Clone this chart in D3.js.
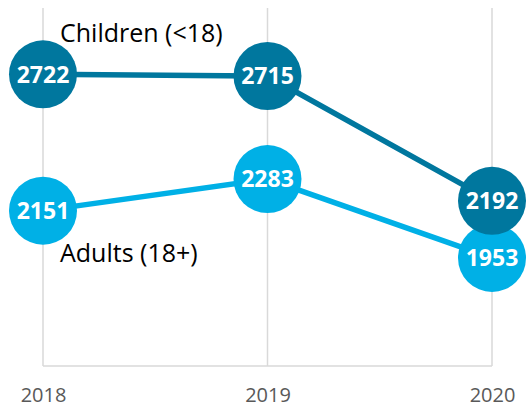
<!DOCTYPE html>
<html>
<head>
<meta charset="utf-8">
<script src="https://cdn.jsdelivr.net/npm/d3@7"></script>
<style>
  body { margin: 0; background: #fff; }
  svg { display: block; font-family: 'Open Sans', sans-serif; }
</style>
</head>
<body>
<div class="chart"></div>
<script>
// data
const years = ['2018', '2019', '2020']
const children = [2722, 2715, 2192]
const adults = [2151, 2283, 1953]
const seriesNames = ['Children (<18)', 'Adults (18+)']
const yDomain = [1500, 3000]

const width = 527,
      height = 408

const svg = d3.select('.chart')
              .append('svg')
              .attr('width', width)
              .attr('height', height)

// scales
const xScale = d3.scalePoint()
                 .domain(years)
                 .range([43, 492])

const yScale = d3.scaleLinear()
                 .domain(yDomain)
                 .range([366, 8])

// vertical grid lines
svg.append('g')
   .selectAll('line')
   .data(years)
   .join('line')
   .attr('x1', d => xScale(d))
   .attr('x2', d => xScale(d))
   .attr('y1', yScale(yDomain[1]))
   .attr('y2', yScale(yDomain[0]))
   .attr('stroke', '#d9d9d9')
   .attr('stroke-width', 1.5)

// baseline
svg.append('line')
   .attr('x1', xScale(years[0]))
   .attr('x2', xScale(years[years.length - 1]))
   .attr('y1', yScale(yDomain[0]))
   .attr('y2', yScale(yDomain[0]))
   .attr('stroke', '#d9d9d9')
   .attr('stroke-width', 1.5)

// x axis labels
const xAxis = d3.axisBottom(xScale).tickSize(0).tickPadding(0)
const xAxisGroup = svg.append('g')
                      .attr('transform', 'translate(0,402)')
                      .call(xAxis)
xAxisGroup.select('.domain').remove()
xAxisGroup.selectAll('text')
          .attr('y', 0)
          .attr('dy', 0)
          .style('font-family', 'Open Sans, sans-serif')
          .style('font-size', '20px')
          .style('fill', '#595959')

// series (adults first so children sits on top)
const series = [
  { name: seriesNames[1], values: adults, color: '#00b0e6' },
  { name: seriesNames[0], values: children, color: '#00779e' }
]

const line = d3.line()
               .x(d => xScale(d.year))
               .y(d => yScale(d.value))

series.forEach(s => {
  const pts = years.map((y, i) => ({ year: y, value: s.values[i] }))
  const g = svg.append('g')

  g.append('path')
   .datum(pts)
   .attr('d', line)
   .attr('fill', 'none')
   .attr('stroke', s.color)
   .attr('stroke-width', 5.5)

  g.selectAll('circle')
   .data(pts)
   .join('circle')
   .attr('cx', d => xScale(d.year))
   .attr('cy', d => yScale(d.value))
   .attr('r', 34)
   .attr('fill', s.color)

  g.selectAll('text')
   .data(pts)
   .join('text')
   .attr('x', d => xScale(d.year))
   .attr('y', d => yScale(d.value))
   .attr('dy', '0.36em')
   .attr('text-anchor', 'middle')
   .style('fill', '#fff')
   .style('font-size', '23px')
   .style('font-weight', 'bold')
   .text(d => d.value)
})

// series names
svg.append('text')
   .attr('x', 60)
   .attr('y', 42)
   .style('font-size', '25px')
   .style('fill', '#000')
   .text(seriesNames[0])

svg.append('text')
   .attr('x', 60)
   .attr('y', 262)
   .style('font-size', '25px')
   .style('fill', '#000')
   .text(seriesNames[1])
</script>
</body>
</html>
